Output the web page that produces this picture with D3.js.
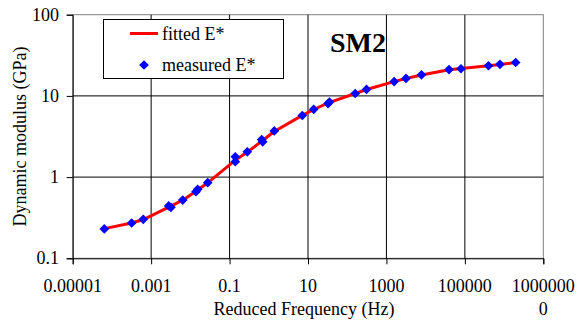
<!DOCTYPE html>
<html>
<head>
<meta charset="utf-8">
<script src="https://cdn.jsdelivr.net/npm/d3@7"></script>
<style>
  html, body { margin: 0; padding: 0; background: #fff; }
  svg { display: block; }
  text { font-family: "Liberation Serif", "Times New Roman", serif; fill: #000; }
</style>
</head>
<body>
<svg id="chart" width="587" height="326"></svg>
<script>
// Measured dynamic modulus |E*| (GPa) against reduced frequency (Hz)
const measuredFreq = [6.4e-5, 3.19e-4, 6.3e-4, 2.8e-3, 3.2e-3, 6.4e-3, 0.0139, 0.0154, 0.0277,
  0.140, 0.140, 0.283, 0.66, 0.70, 1.38, 7.14, 14.0, 32.4, 35.3, 160, 310,
  1575, 3150, 7820, 39400, 79600, 4.0e5, 7.85e5, 1.97e6];
const measuredE = [0.230, 0.272, 0.302, 0.441, 0.425, 0.522, 0.660, 0.708, 0.853,
  1.55, 1.78, 2.05, 2.90, 2.72, 3.70, 5.74, 6.84, 8.05, 8.41, 10.7, 12.0,
  15.0, 16.4, 18.2, 21.1, 21.6, 23.5, 24.5, 25.8];

// Fitted master curve
const fittedFreq = [6.4e-5, 3.19e-4, 6.3e-4, 2.9e-3, 6.4e-3, 0.0145, 0.0277, 0.140, 0.283,
  0.68, 1.38, 7.14, 14.0, 33.0, 160, 310, 1575, 3150, 7820, 39400, 79600, 4.0e5, 7.85e5, 1.97e6];
const fittedE = [0.232, 0.272, 0.300, 0.430, 0.520, 0.680, 0.850, 1.62, 2.03,
  2.80, 3.65, 5.75, 6.80, 8.20, 10.7, 12.0, 15.0, 16.4, 18.1, 21.0, 21.8, 23.5, 24.4, 25.8];

const xTicks = [1e-5, 1e-3, 1e-1, 1e1, 1e3, 1e5, 1e7];
const xTickLabels = ["0.00001", "0.001", "0.1", "10", "1000", "100000", "1000000|0"];
const yTicks = [0.1, 1, 10, 100];
const yTickLabels = ["0.1", "1", "10", "100"];

const svg = d3.select("#chart");
const plot = { left: 72.7, top: 14.7, right: 543.3, bottom: 258.3 };

const x = d3.scaleLog().domain([1e-5, 1e7]).range([plot.left, plot.right]);
const y = d3.scaleLog().domain([0.1, 100]).range([plot.bottom, plot.top]);

// plot area and grid
svg.append("rect")
  .attr("x", plot.left).attr("y", plot.top)
  .attr("width", plot.right - plot.left).attr("height", plot.bottom - plot.top)
  .attr("fill", "#fff").attr("stroke", "#808080").attr("stroke-width", 1);

svg.append("g").selectAll("line")
  .data(xTicks.slice(1, -1)).join("line")
  .attr("x1", d => x(d)).attr("x2", d => x(d))
  .attr("y1", plot.top).attr("y2", plot.bottom)
  .attr("stroke", "#000").attr("stroke-width", 1);

svg.append("g").selectAll("line")
  .data(yTicks.slice(1, -1)).join("line")
  .attr("x1", plot.left).attr("x2", plot.right)
  .attr("y1", d => y(d)).attr("y2", d => y(d))
  .attr("stroke", "#000").attr("stroke-width", 1);

// axes
const xAxis = svg.append("g")
  .attr("transform", `translate(0,${plot.bottom})`)
  .call(d3.axisBottom(x).tickValues(xTicks).tickSize(6).tickFormat(() => ""));
xAxis.select(".domain").attr("stroke", "#000");
xAxis.selectAll(".tick line").attr("stroke", "#000");

const yAxis = svg.append("g")
  .attr("transform", `translate(${plot.left},0)`)
  .call(d3.axisLeft(y).tickValues(yTicks).tickSize(6).tickFormat(() => ""));
yAxis.select(".domain").attr("stroke", "#000");
yAxis.selectAll(".tick line").attr("stroke", "#000");

// tick labels
const xl = svg.append("g").selectAll("text")
  .data(xTicks).join("text")
  .attr("x", d => x(d)).attr("y", 292)
  .attr("text-anchor", "middle").attr("font-size", 18);
xl.each(function(d, i) {
  const parts = xTickLabels[i].split("|");
  const t = d3.select(this);
  parts.forEach((p, k) => t.append("tspan").attr("x", x(d)).attr("dy", k === 0 ? 0 : 23).text(p));
});

svg.append("g").selectAll("text")
  .data(yTicks).join("text")
  .attr("x", 59).attr("y", d => y(d) + 6)
  .attr("text-anchor", "end").attr("font-size", 18)
  .text((d, i) => yTickLabels[i]);

// axis titles
svg.append("text")
  .attr("x", 304).attr("y", 315)
  .attr("text-anchor", "middle").attr("font-size", 18)
  .text("Reduced Frequency (Hz)");

svg.append("text")
  .attr("transform", `translate(26,${(plot.top + plot.bottom) / 2}) rotate(-90)`)
  .attr("text-anchor", "middle").attr("font-size", 18)
  .text("Dynamic modulus (GPa)");

// fitted curve
const line = d3.line().x((d, i) => x(fittedFreq[i])).y(d => y(d));
svg.append("path")
  .datum(fittedE)
  .attr("d", line)
  .attr("fill", "none").attr("stroke", "#ff0000").attr("stroke-width", 3)
  .attr("stroke-linejoin", "round");

// measured points
const diamond = d3.symbol().type(d3.symbolDiamond2).size(60);
svg.append("g").selectAll("path")
  .data(measuredE).join("path")
  .attr("transform", (d, i) => `translate(${x(measuredFreq[i])},${y(d)})`)
  .attr("d", diamond)
  .attr("fill", "#0000ff");

// legend
const lg = svg.append("g");
lg.append("rect").attr("x", 103.5).attr("y", 19.5).attr("width", 180).attr("height", 59)
  .attr("fill", "#fff").attr("stroke", "#000").attr("stroke-width", 1);
lg.append("line").attr("x1", 130).attr("x2", 158).attr("y1", 33.5).attr("y2", 33.5)
  .attr("stroke", "#ff0000").attr("stroke-width", 3);
lg.append("text").attr("x", 162).attr("y", 40).attr("font-size", 18).text("fitted E*");
lg.append("path").attr("transform", "translate(144,65)").attr("d", diamond).attr("fill", "#0000ff");
lg.append("text").attr("x", 162).attr("y", 71).attr("font-size", 18).text("measured E*");

// sample label
svg.append("text")
  .attr("x", 330).attr("y", 52)
  .attr("font-size", 28).attr("font-weight", "bold")
  .text("SM2");
</script>
</body>
</html>
